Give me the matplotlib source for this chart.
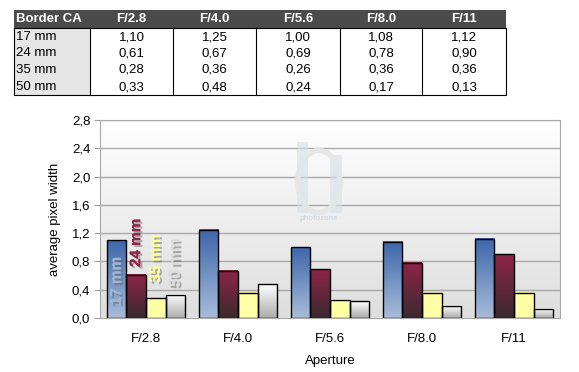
import numpy as np
import matplotlib
matplotlib.use("Agg")
import matplotlib.pyplot as plt
from matplotlib.patches import Rectangle, Ellipse
import matplotlib.patheffects as pe

plt.rcParams["font.family"] = ["Liberation Sans", "DejaVu Sans"]

# ------------------------------------------------------------
# Data
# ------------------------------------------------------------
apertures = ["F/2.8", "F/4.0", "F/5.6", "F/8.0", "F/11"]
focal = ["17 mm", "24 mm", "35 mm", "50 mm"]
ca_17 = [1.10, 1.25, 1.00, 1.08, 1.12]
ca_24 = [0.61, 0.67, 0.69, 0.78, 0.90]
ca_35 = [0.28, 0.36, 0.26, 0.36, 0.36]
ca_50 = [0.33, 0.48, 0.24, 0.17, 0.13]
series = [ca_17, ca_24, ca_35, ca_50]

# gradient (top colour, bottom colour) per series
grad = [("#3d66aa", "#a9bcd9"),
        ("#8e2448", "#3b2a2f"),
        ("#ffffa6", "#ffffa6"),
        ("#ffffff", "#acacac")]
label_col = ["#9fb6d6", "#8e2448", "#ffff99", "#dcdcdc"]

W, H = 579, 372
fig = plt.figure(figsize=(W / 100, H / 100), dpi=100)

# ------------------------------------------------------------
# Table (pixel coordinates)
# ------------------------------------------------------------
tab = fig.add_axes([0, 0, 1, 1])
tab.set_xlim(0, W)
tab.set_ylim(H, 0)
tab.axis("off")

col_edges = [14, 90, 173, 256, 340, 422, 506]
row_edges = [10, 28, 45, 61, 78, 95]

tab.add_patch(Rectangle((col_edges[0], row_edges[0]), col_edges[-1] - col_edges[0],
                        row_edges[1] - row_edges[0], fc="#4b4b4b", ec="none"))
tab.add_patch(Rectangle((col_edges[0], row_edges[1]), col_edges[1] - col_edges[0],
                        row_edges[-1] - row_edges[1], fc="#e6e6e6", ec="none"))
for xe in col_edges[1:-1]:
    tab.plot([xe, xe], [row_edges[1], row_edges[-1]], color="black", lw=0.8)
tab.plot([col_edges[0], col_edges[-1], col_edges[-1], col_edges[0], col_edges[0]],
         [row_edges[1], row_edges[1], row_edges[-1], row_edges[-1], row_edges[1]],
         color="black", lw=0.8)

ty = (row_edges[0] + row_edges[1]) / 2
tab.text(col_edges[0] + 2, ty, "Border CA", color="white", fontsize=9.5,
         fontweight="bold", ha="left", va="center")
for j, ap in enumerate(apertures):
    cx = (col_edges[j + 1] + col_edges[j + 2]) / 2
    tab.text(cx, ty, ap, color="white", fontsize=9.5, fontweight="bold",
             ha="center", va="center")
for i, fl in enumerate(focal):
    ry = (row_edges[i + 1] + row_edges[i + 2]) / 2 + 0.5
    tab.text(col_edges[0] + 2, ry, fl, fontsize=9.5, ha="left", va="center")
    for j, v in enumerate(series[i]):
        cx = (col_edges[j + 1] + col_edges[j + 2]) / 2
        tab.text(cx, ry, f"{v:.2f}".replace(".", ","), fontsize=9.5,
                 ha="center", va="center")

# ------------------------------------------------------------
# Bar chart
# ------------------------------------------------------------
ax_l, ax_r, ax_t, ax_b = 100, 560, 120, 318
ax = fig.add_axes([ax_l / W, 1 - ax_b / H, (ax_r - ax_l) / W, (ax_b - ax_t) / H])
n = len(apertures)

# background gradient
bg = np.linspace(1, 0, 256).reshape(-1, 1)
ax.imshow(bg, extent=(-0.5, n - 0.5, 0, 2.8), aspect="auto",
          cmap=matplotlib.colors.LinearSegmentedColormap.from_list(
              "bg", ["#dedede", "#ffffff"]), zorder=0)

yt = np.arange(0, 2.81, 0.4)
for y in yt[1:]:
    ax.axhline(y, color="#a8a8a8", lw=1, zorder=1)

# faint watermark logo
wm = "#d6dfe9"
ax.add_patch(Rectangle((1.64, 1.49), 0.12, 1.0, fc=wm, ec="none", alpha=0.6, zorder=1))
ax.add_patch(Rectangle((2.00, 1.49), 0.13, 0.82, fc=wm, ec="none", alpha=0.6, zorder=1))
ax.add_patch(Ellipse((1.88, 1.93), 0.46, 0.88, fc="none", ec="#e6e6e6", lw=4,
                     alpha=0.9, zorder=1))
ax.text(1.88, 1.41, "photozone", color="#d2dae3", fontsize=5.5, fontweight="bold",
        ha="center", va="center", zorder=1)

bw = 0.212
x = np.arange(n)
for k, vals in enumerate(series):
    cmap = matplotlib.colors.LinearSegmentedColormap.from_list(
        f"g{k}", [grad[k][1], grad[k][0]])
    for i, v in enumerate(vals):
        x0 = x[i] - 2 * bw + k * bw
        ax.imshow(np.linspace(0, 1, 128).reshape(-1, 1), origin="lower",
                  extent=(x0, x0 + bw, 0, v), aspect="auto", cmap=cmap, zorder=2)
        ax.add_patch(Rectangle((x0, 0), bw, v, fc="none", ec="black", lw=1, zorder=3))

# rotated series labels in first group
lab_y = [0.18, 0.72, 0.5, 0.44]
for k, name in enumerate(focal):
    xc = x[0] - 2 * bw + k * bw + bw / 2
    ax.text(xc, lab_y[k], name, rotation=90, color=label_col[k],
            fontsize=11, fontweight="bold", ha="center", va="bottom", zorder=4,
            path_effects=[pe.withSimplePatchShadow(offset=(1.5, -1.5),
                                                    shadow_rgbFace="#666666",
                                                    alpha=0.5), pe.Normal()])

ax.set_xlim(-0.5, n - 0.5)
ax.set_ylim(0, 2.8)
ax.set_yticks(yt)
ax.set_yticklabels([f"{v:.1f}".replace(".", ",") for v in yt], fontsize=9.5)
ax.set_xticks(x)
ax.set_xticklabels(apertures, fontsize=9.5)
ax.tick_params(axis="x", length=0, pad=11)
ax.tick_params(axis="y", length=4, color="#a0a0a0", pad=3)
for sp in ax.spines.values():
    sp.set_color("#a8a8a8")
ax.set_xlabel("Aperture", fontsize=9.5, labelpad=7)
ax.set_ylabel("average pixel width", fontsize=9.5, labelpad=8)

fig.savefig("out.png", dpi=100)
